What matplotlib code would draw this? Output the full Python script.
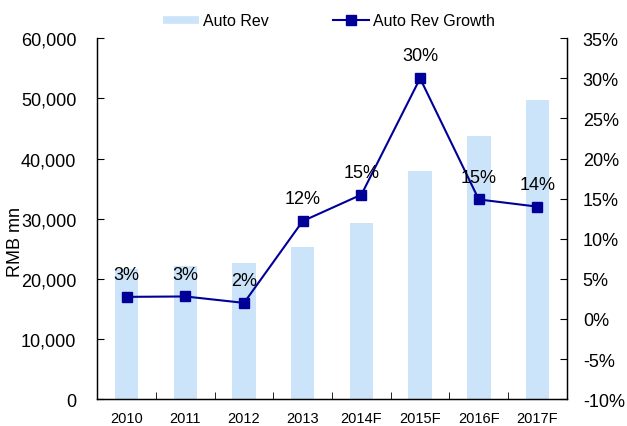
import numpy as np
import matplotlib.pyplot as plt
from matplotlib.ticker import FuncFormatter
from matplotlib.lines import Line2D

plt.rcParams['font.family'] = ['Liberation Sans', 'DejaVu Sans']

############### Data
years = ['2010', '2011', '2012', '2013', '2014F', '2015F', '2016F', '2017F']
auto_rev = [21700, 22200, 22700, 25300, 29300, 38000, 43700, 49700]
auto_growth = [2.75, 2.8, 2.0, 12.2, 15.5, 30.0, 14.9, 14.0]
growth_labels = ['3%', '3%', '2%', '12%', '15%', '30%', '15%', '14%']

bar_col = '#cce4fa'
line_col = '#000099'

############### Figure
fig = plt.figure(figsize=(6.27, 4.27), dpi=100)
ax = fig.add_axes([0.1552, 0.063, 0.7488, 0.845])
x = np.arange(len(years))

ax.bar(x, auto_rev, width=0.4, color=bar_col, zorder=1)
ax.set_xlim(-0.5, len(years) - 0.5)
ax.set_ylim(0, 60000)
ax.set_yticks(np.arange(0, 60001, 10000))
ax.yaxis.set_major_formatter(FuncFormatter(lambda v, p: f'{int(v):,}'))
ax.set_xticks(x)
ax.set_xticklabels(years, fontsize=10.5)
ax.set_xticks(np.arange(-0.5, len(years), 1), minor=True)
ax.tick_params(axis='x', which='major', length=0, pad=8.5)
ax.tick_params(axis='x', which='minor', direction='in', length=5)
ax.tick_params(axis='y', direction='in', length=5, labelsize=13, pad=15)
fig.text(15 / 627, 1 - 242 / 427, 'RMB mn', rotation=90, ha='center',
         va='center', fontsize=13)

############### Growth line
ax2 = ax.twinx()
ax2.plot(x, auto_growth, color=line_col, marker='s', markersize=7.5,
         linewidth=1.5, zorder=3)
ax2.set_ylim(-10, 35)
ax2.set_yticks(np.arange(-10, 36, 5))
ax2.yaxis.set_major_formatter(FuncFormatter(lambda v, p: f'{int(v)}%'))
ax2.tick_params(axis='y', direction='in', length=5, labelsize=13, pad=11.5)
for xi, yi, lab in zip(x, auto_growth, growth_labels):
    ax2.annotate(lab, (xi, yi), xytext=(0, 10), textcoords='offset points',
                 ha='center', va='bottom', fontsize=13)

for a in (ax, ax2):
    a.spines['top'].set_visible(False)
    for s in ('left', 'right', 'bottom'):
        a.spines[s].set_color('black')
        a.spines[s].set_linewidth(0.9)

handles = [Line2D([0], [0], color=bar_col, lw=5.5, solid_capstyle='butt'),
           Line2D([0], [0], color=line_col, lw=1.5, marker='s', markersize=7.5)]
fig.legend(handles, ['Auto Rev', 'Auto Rev Growth'], loc='upper center',
           bbox_to_anchor=(0.525, 1.0), ncol=2, frameon=False, fontsize=11.5,
           handlelength=2.25, handletextpad=0.25, columnspacing=4)

fig.savefig('out.png', dpi=100)
